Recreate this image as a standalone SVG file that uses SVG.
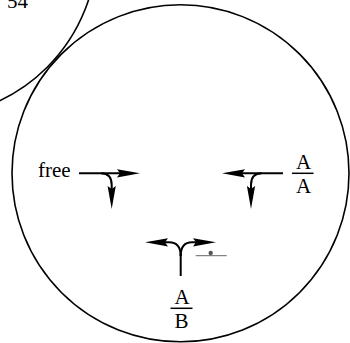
<svg xmlns="http://www.w3.org/2000/svg" width="350" height="343" viewBox="0 0 350 343">
<style>
.circ{fill:none;stroke:#000;stroke-width:1.6}
.arr{fill:none;stroke:#000;stroke-width:2;marker-end:url(#head)}
.ln{fill:none;stroke:#000;stroke-width:2}
.bar{stroke:#000;stroke-width:1.5}
.t{font-family:"Liberation Serif","Times New Roman",serif;font-size:21px;fill:#000}
.c{text-anchor:middle}
</style>
<defs>
<marker id="head" viewBox="0 -4.5 23 9" markerWidth="23" markerHeight="9" markerUnits="userSpaceOnUse" refX="3" refY="0" orient="auto">
<path d="M0,-4.1 L23,0 L0,4.1 L3,0 z" fill="#000"/>
</marker>
</defs>
<rect width="350" height="343" fill="#fff"/>
<g id="outer-circle"><circle class="circ" cx="-73" cy="-53" r="170"/><text class="t" x="7" y="8">54</text></g>
<g id="main-circle"><circle class="circ" cx="180.5" cy="173.3" r="168.5"/></g>
<g id="node-free"><text class="t" x="38" y="176.5">free</text></g>
<g id="node-AA"><text class="t c" x="303.5" y="169">A</text><line class="bar" x1="292" y1="173.3" x2="313.5" y2="173.3"/><text class="t c" x="303.5" y="193.3">A</text></g>
<g id="node-AB"><text class="t c" x="182" y="304">A</text><line class="bar" x1="170.5" y1="308.3" x2="192.5" y2="308.3"/><text class="t c" x="181.5" y="328">B</text></g>
<g id="marker-dot"><line x1="195.7" y1="255.7" x2="226.7" y2="255.7" stroke="#666" stroke-width="1"/><circle cx="210.7" cy="253" r="2.2" fill="#555"/></g>
<g id="connectors">
<path class="arr" d="M79,173.3 L120,173.3"/>
<path class="arr" d="M101,173.3 Q111.7,173.3 111.7,185 L111.7,189"/>
<path class="arr" d="M283,173.3 L242,173.3"/>
<path class="arr" d="M261.5,173.3 Q251,173.3 251,185 L251,189"/>
<path class="ln" d="M180.7,276 L180.7,254"/>
<path class="arr" d="M180.7,256 Q180.7,242.3 169,242.3 L165,242.3"/>
<path class="arr" d="M180.7,256 Q180.7,242.3 192,242.3 L196,242.3"/>
</g>
</svg>
